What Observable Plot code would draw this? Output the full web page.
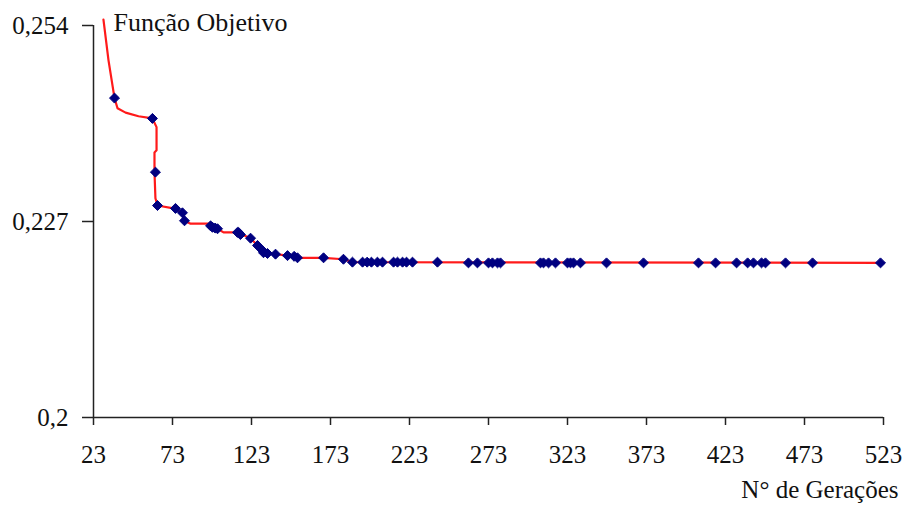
<!DOCTYPE html>
<html>
<head>
<meta charset="utf-8">
<script src="https://cdn.jsdelivr.net/npm/d3@7"></script>
<script src="https://cdn.jsdelivr.net/npm/@observablehq/plot@0.6"></script>
<style>
  html, body { margin: 0; padding: 0; background: #fff; }
  #chart svg { display: block; }
</style>
</head>
<body>
<div id="chart"></div>
<script>
// Red line: generation and objective value
const lineGen = [29.3, 32.5, 36.3, 38.2, 43.3, 51.5, 60.3, 62.9, 62.9, 61.6, 61.6, 62.2, 63.5, 73.6, 79.3, 80.6, 84.4, 95.8, 101.5, 105.3, 114.1, 122.4, 126.8, 130.6, 138.2, 145.8, 152.1, 168.6, 181.2, 186.9, 523];
const lineVal = [0.2548, 0.2492, 0.2440, 0.2426, 0.2420, 0.2415, 0.2412, 0.2400, 0.2368, 0.2365, 0.2338, 0.2302, 0.2292, 0.2288, 0.2282, 0.2271, 0.2267, 0.2267, 0.2260, 0.2255, 0.2255, 0.2247, 0.2237, 0.2227, 0.2225, 0.2223, 0.2220, 0.2220, 0.2218, 0.2214, 0.2213];

// Blue markers
const markGen = [36.3, 60.3, 62.2, 63.5, 74.9, 79.3, 80.6, 97.1, 98.3, 100.0, 101.5, 114.1, 114.8, 116.0, 122.4, 126.8, 130.0, 130.6, 133.1, 138.2, 145.8, 150.0, 152.1, 168.6, 181.2, 186.9, 193.3, 196.2, 198.9, 202.7, 205.9, 212.9, 215.4, 218.6, 221.1, 224.9, 240.7, 260.3, 266.0, 273.0, 275.5, 278.7, 280.6, 305.9, 307.8, 311.0, 315.4, 323.0, 324.9, 326.8, 331.2, 347.7, 371.1, 405.9, 416.7, 430.0, 437.0, 440.7, 445.8, 448.3, 461.0, 478.1, 521.1];
const markVal = [0.2440, 0.2412, 0.2338, 0.2292, 0.2288, 0.2282, 0.2271, 0.2264, 0.2262, 0.2261, 0.2260, 0.2255, 0.2255, 0.2252, 0.2247, 0.2237, 0.2230, 0.2227, 0.2226, 0.2225, 0.2223, 0.2222, 0.2220, 0.2220, 0.2218, 0.2214, 0.2214, 0.2214, 0.2214, 0.2214, 0.2214, 0.2214, 0.2214, 0.2214, 0.2214, 0.2214, 0.2214, 0.2213, 0.2213, 0.2213, 0.2213, 0.2213, 0.2213, 0.2213, 0.2213, 0.2213, 0.2213, 0.2213, 0.2213, 0.2213, 0.2213, 0.2213, 0.2213, 0.2213, 0.2213, 0.2213, 0.2213, 0.2213, 0.2213, 0.2213, 0.2213, 0.2213, 0.2213];

const xTicks = [23, 73, 123, 173, 223, 273, 323, 373, 423, 473, 523];
const yTicks = [0.2, 0.227, 0.254];
const yTitle = "Função Objetivo";
const xTitle = "N° de Gerações";

const lineData = lineGen.map((g, i) => ({g, v: lineVal[i]}));
const markData = markGen.map((g, i) => ({g, v: markVal[i]}));
const fmt = d => String(d).replace(".", ",");

const chart = Plot.plot({
  width: 903,
  height: 506,
  marginLeft: 93,
  marginRight: 20,
  marginTop: 25,
  marginBottom: 89,
  style: {fontFamily: "'Liberation Serif', 'Times New Roman', serif", fontSize: "25px", color: "#111", background: "#fff"},
  x: {domain: [23, 523]},
  y: {domain: [0.2, 0.254]},
  marks: [
    Plot.axisY({ticks: yTicks, tickFormat: fmt, tickSize: 11, tickPadding: 14, label: null, stroke: "#222", strokeWidth: 1.5, fontSize: 25}),
    Plot.axisX({ticks: xTicks, tickFormat: d => String(d), tickSize: 8, tickPadding: 20, label: null, stroke: "#222", strokeWidth: 1.5, fontSize: 25}),
    Plot.ruleX([23], {y1: 0.2, y2: 0.254, stroke: "#222", strokeWidth: 1.5}),
    Plot.ruleY([0.2], {x1: 23, x2: 523, stroke: "#222", strokeWidth: 1.5}),
    Plot.line(lineData, {x: "g", y: "v", stroke: "#ff1a1a", strokeWidth: 2.2, curve: "linear"}),
    Plot.dot(markData, {x: "g", y: "v", symbol: "diamond2", r: 4.5, fill: "#000080", stroke: "#000080", strokeWidth: 1}),
    Plot.text([yTitle], {frameAnchor: "top-left", textAnchor: "start", lineAnchor: "bottom", dx: 20, dy: 5, fill: "#111", fontSize: 26}),
    Plot.text([xTitle], {frameAnchor: "bottom-right", textAnchor: "end", lineAnchor: "bottom", dx: 15, dy: 80, fill: "#111", fontSize: 25})
  ]
});
document.getElementById("chart").appendChild(chart);
</script>
</body>
</html>
